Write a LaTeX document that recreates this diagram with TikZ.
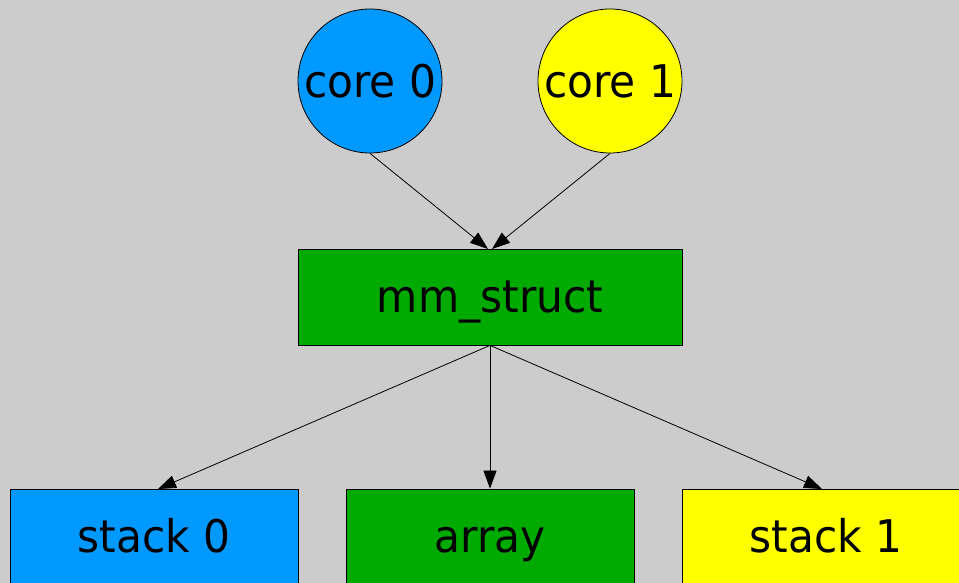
\documentclass[tikz,border=0pt]{standalone}
\usepackage{fontspec}
\setmainfont{DejaVu Sans}[FakeStretch=0.94]
\usetikzlibrary{arrows.meta}
\definecolor{bg}{HTML}{CCCCCC}
\definecolor{cblue}{HTML}{0099FF}
\definecolor{cyel}{HTML}{FFFF00}
\definecolor{cgreen}{HTML}{00AA00}
\begin{document}
\begin{tikzpicture}[x=1pt,y=1pt,
  core/.style={circle,draw,line width=0.8pt,minimum size=144pt,inner sep=0pt,
    font=\fontsize{45}{54}\selectfont,text height=33pt,text depth=0pt},
  box/.style={rectangle,draw,line width=0.8pt,inner sep=0pt,
    font=\fontsize{45}{54}\selectfont,text height=31pt,text depth=0pt},
  edge/.style={line width=0.8pt,-{Triangle[length=18pt,width=13pt]}}]
\useasboundingbox (0,0) rectangle (959,583);
\fill[bg] (0,0) rectangle (959,583);
\clip (0,0) rectangle (959,583);
\node[core,fill=cblue] (c0) at (370,502) {core 0};
\node[core,fill=cyel] (c1) at (610,502) {core 1};
\node[box,fill=cgreen,minimum width=384pt,minimum height=96pt] (mm) at (490,286) {mm\_struct};
\node[box,fill=cblue,minimum width=288pt,minimum height=96pt] (s0) at (154,46) {stack 0};
\node[box,fill=cgreen,minimum width=288pt,minimum height=96pt] (ar) at (490,46) {array};
\node[box,fill=cyel,minimum width=288pt,minimum height=96pt] (s1) at (826,46) {stack 1};
\coordinate (t0) at (488,334);
\coordinate (t1) at (492,334);
\coordinate (b0) at (158,94);
\coordinate (b2) at (822,94);
\draw[edge] (c0.south) -- (t0);
\draw[edge] (c1.south) -- (t1);
\draw[edge] (mm.south) -- (b0);
\draw[edge] (mm.south) -- (ar.north);
\draw[edge] (mm.south) -- (b2);
\end{tikzpicture}
\end{document}
